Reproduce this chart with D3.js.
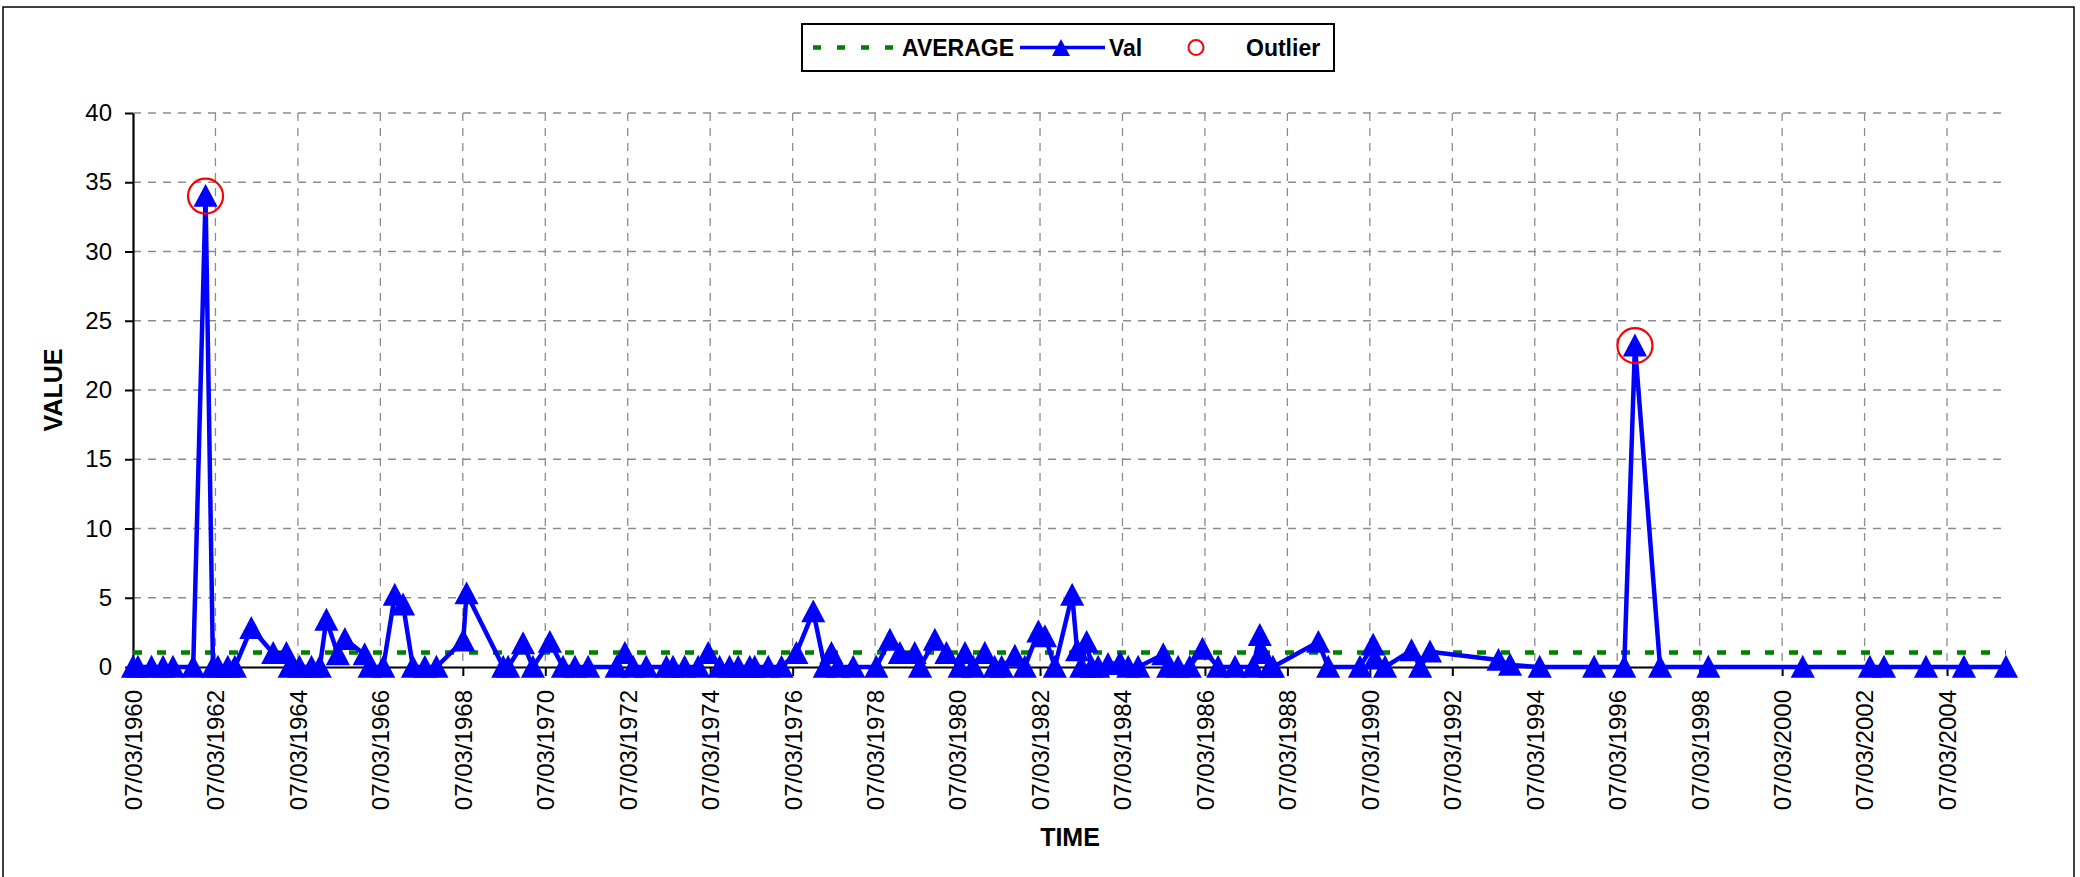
<!DOCTYPE html>
<html><head><meta charset="utf-8">
<script src="https://cdn.jsdelivr.net/npm/d3@7"></script>
<style>
body{margin:0;background:#fff}
svg{display:block}
text{font-family:"Liberation Sans",Arial,Helvetica,sans-serif;fill:#000}
</style>
</head><body>
<svg id="chart" width="2080" height="877"></svg>
<script>
// ---- data (decimal years) ----
const dates = [
 1960.00,1960.12,1960.45,1960.73,1960.97,1961.46,1961.76,1961.94,1962.06,1962.30,
 1962.47,1962.87,1963.40,1963.72,1963.80,1964.04,1964.33,1964.53,1964.69,1964.97,
 1965.14,1965.62,1965.74,1966.07,1966.35,1966.55,1966.79,1967.08,1967.36,1968.01,
 1968.09,1968.98,1969.10,1969.46,1969.70,1970.11,1970.43,1970.72,1971.04,1971.73,
 1971.93,1972.13,1972.45,1972.94,1973.10,1973.38,1973.71,1973.95,1974.23,1974.47,
 1974.68,1974.96,1975.08,1975.41,1975.73,1976.09,1976.50,1976.78,1976.94,1977.10,
 1977.47,1978.03,1978.36,1978.60,1978.96,1979.09,1979.45,1979.73,1980.05,1980.18,
 1980.38,1980.66,1980.90,1981.07,1981.39,1981.63,1981.96,1982.12,1982.36,1982.78,
 1982.90,1983.00,1983.13,1983.25,1983.41,1983.65,1983.94,1984.14,1984.38,1984.99,
 1985.11,1985.35,1985.63,1985.94,1986.32,1986.73,1987.17,1987.33,1987.40,1987.58,
 1987.65,1988.75,1988.99,1989.76,1990.08,1990.12,1990.37,1991.01,1991.22,1991.46,
 1993.12,1993.40,1994.12,1995.44,1996.17,1996.43,1997.04,1998.21,2000.50,2002.13,
 2002.47,2003.49,2004.41,2005.43
];
const values = [
 0,0,0,0,0,0,34.0,0,0,0,
 0,2.8,1.0,1.0,0,0,0,0,3.4,0.9,
 2.0,0.9,0,0,5.2,4.5,0,0,0,1.9,
 5.3,0,0,1.7,0,1.8,0,0,0,0,
 1.0,0,0,0,0,0,0,1.0,0,0,
 0,0,0,0,0,1.0,4.0,0,1.0,0,
 0,0,1.95,1.0,1.0,0,1.95,1.0,0,1.0,
 0,1.0,0,0,0.8,0,2.55,2.2,0,5.2,
 1.2,0,1.8,0,0,0.2,0.3,0,0,0.9,
 0,0,0,1.3,0,0,0,2.3,1.0,0,
 0,1.8,0,0,1.6,0.6,0,1.2,0,1.1,
 0.5,0.15,0,0,0,23.2,0,0,0,0,
 0,0,0,0
];
const outlierDates = [1961.76, 1996.43];
const outlierValues = [34.0, 23.2];
const averageValue = 1.05;
const xTickLabels = ["07/03/1960","07/03/1962","07/03/1964","07/03/1966","07/03/1968","07/03/1970",
 "07/03/1972","07/03/1974","07/03/1976","07/03/1978","07/03/1980","07/03/1982","07/03/1984",
 "07/03/1986","07/03/1988","07/03/1990","07/03/1992","07/03/1994","07/03/1996","07/03/1998",
 "07/03/2000","07/03/2002","07/03/2004"];
const yTicks = [0,5,10,15,20,25,30,35,40];
const legendLabels = ["AVERAGE","Val","Outlier"];

// ---- layout ----
const svg = d3.select("#chart");
const plot = {left:133, right:2006, top:113, bottom:667};
const x = d3.scaleLinear().domain([d3.min(dates), d3.max(dates)]).range([plot.left, plot.right]);
const y = d3.scaleLinear().domain([0, 40]).range([plot.bottom, plot.top]);
const tickYears = xTickLabels.map(s => +s.slice(6));
const labelByYear = new Map(tickYears.map((t,i)=>[t, xTickLabels[i]]));

// frame
svg.append("rect").attr("x",3).attr("y",7).attr("width",2071).attr("height",880)
  .attr("fill","none").attr("stroke","#000").attr("stroke-width",1.5);

// gridlines
const grid = svg.append("g").attr("stroke","#8c8c8c").attr("stroke-width",1.3).attr("stroke-dasharray","8,7");
grid.selectAll("line.h").data(yTicks.filter(d=>d>0)).join("line")
  .attr("x1",plot.left).attr("x2",plot.right).attr("y1",d=>y(d)).attr("y2",d=>y(d));
grid.selectAll("line.v").data(tickYears.slice(1)).join("line")
  .attr("y1",plot.top).attr("y2",plot.bottom).attr("x1",d=>x(d)).attr("x2",d=>x(d));

// axes
const yAxis = svg.append("g").attr("transform",`translate(${plot.left},0)`)
  .call(d3.axisLeft(y).tickValues(yTicks).tickSize(8).tickSizeOuter(0).tickPadding(13));
const xAxis = svg.append("g").attr("transform",`translate(0,${plot.bottom})`)
  .call(d3.axisBottom(x).tickValues(tickYears).tickFormat(d=>labelByYear.get(d)).tickSize(9).tickSizeOuter(0));
[yAxis,xAxis].forEach(a=>{
  a.select(".domain").attr("stroke","#000").attr("stroke-width",2.2);
  a.selectAll(".tick line").attr("stroke","#000").attr("stroke-width",2);
  a.selectAll("text").attr("font-size",24).attr("fill","#000").style("font-family",'"Liberation Sans",Arial,sans-serif');
});
xAxis.selectAll(".tick text").attr("transform","rotate(-90)").attr("y",0).attr("x",-23)
  .attr("dy","0.35em").attr("text-anchor","end");

// axis titles
svg.append("text").attr("x",1070).attr("y",846).attr("text-anchor","middle")
  .attr("font-size",25).attr("font-weight","bold").text("TIME");
svg.append("text").attr("transform","translate(62,390) rotate(-90)").attr("text-anchor","middle")
  .attr("font-size",25).attr("font-weight","bold").text("VALUE");

// average line
svg.append("line").attr("x1",plot.left).attr("x2",plot.right)
  .attr("y1",y(averageValue)).attr("y2",y(averageValue))
  .attr("stroke","#008000").attr("stroke-width",4.5).attr("stroke-dasharray","9,15");

// value series
const pts = dates.map((d,i)=>({d, v:values[i]}));
svg.append("path").datum(pts)
  .attr("d", d3.line().x(p=>x(p.d)).y(p=>y(p.v)))
  .attr("fill","none").attr("stroke","#0000ff").attr("stroke-width",4.5).attr("stroke-linejoin","round");
const tri = (w,h)=>`M0,${-h/2}L${w/2},${h/2}L${-w/2},${h/2}Z`;
svg.append("g").selectAll("path").data(pts).join("path")
  .attr("d",tri(20,19)).attr("transform",p=>`translate(${x(p.d)},${y(p.v)})`)
  .attr("fill","#0000ff").attr("stroke","#0000ff").attr("stroke-width",2.5).attr("stroke-linejoin","miter");

// outliers
svg.append("g").selectAll("circle").data(outlierDates.map((d,i)=>({d,v:outlierValues[i]}))).join("circle")
  .attr("cx",p=>x(p.d)).attr("cy",p=>y(p.v)).attr("r",17.5)
  .attr("fill","none").attr("stroke","#ff0000").attr("stroke-width",2.2);

// legend
const lg = svg.append("g");
lg.append("rect").attr("x",802).attr("y",24).attr("width",532).attr("height",47)
  .attr("fill","#fff").attr("stroke","#000").attr("stroke-width",2);
const ly = 47.5;
lg.append("line").attr("x1",813).attr("x2",893).attr("y1",ly).attr("y2",ly)
  .attr("stroke","#008000").attr("stroke-width",4.5).attr("stroke-dasharray","8,16");
lg.append("text").attr("x",902).attr("y",ly).attr("dy","0.36em").attr("font-size",23).attr("font-weight","bold").text(legendLabels[0]);
lg.append("line").attr("x1",1020).attr("x2",1105).attr("y1",ly).attr("y2",ly)
  .attr("stroke","#0000ff").attr("stroke-width",3.5);
lg.append("path").attr("d",tri(18,17)).attr("transform",`translate(1061,${ly})`).attr("fill","#0000ff");
lg.append("text").attr("x",1109).attr("y",ly).attr("dy","0.36em").attr("font-size",23).attr("font-weight","bold").text(legendLabels[1]);
lg.append("circle").attr("cx",1196).attr("cy",ly).attr("r",7.5).attr("fill","none").attr("stroke","#ff0000").attr("stroke-width",2);
lg.append("text").attr("x",1246).attr("y",ly).attr("dy","0.36em").attr("font-size",23).attr("font-weight","bold").text(legendLabels[2]);
</script>
</body></html>
